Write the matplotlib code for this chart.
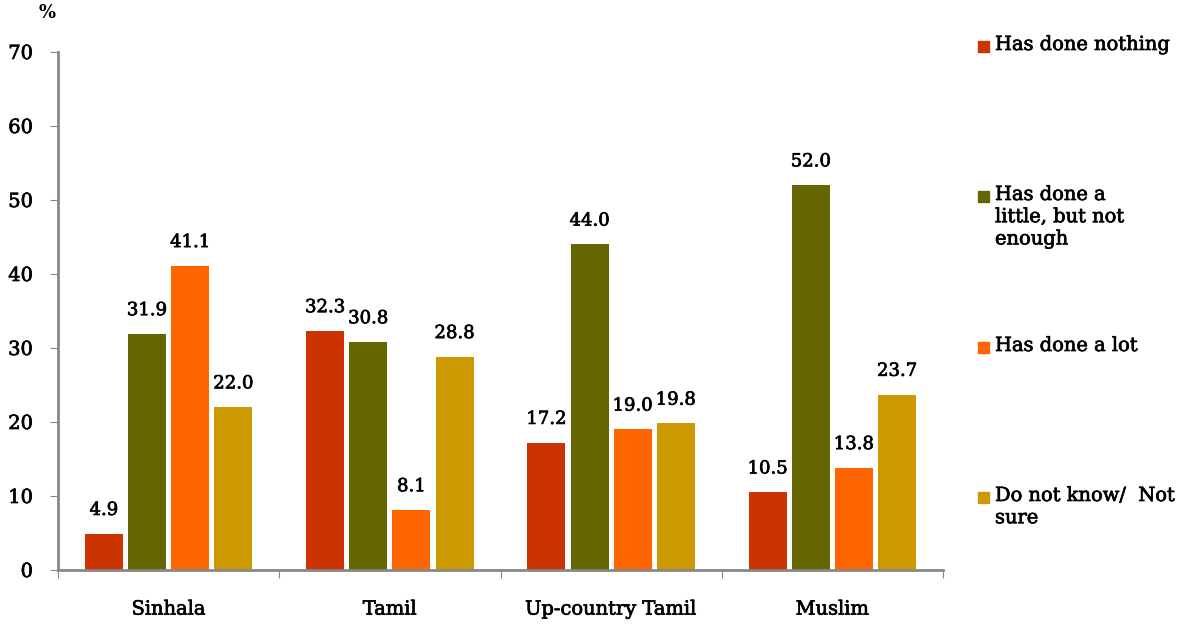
import matplotlib
matplotlib.use("Agg")
import matplotlib.pyplot as plt
import matplotlib.patheffects as pe
import numpy as np
from matplotlib.patches import Rectangle

categories = ["Sinhala", "Tamil", "Up-country Tamil", "Muslim"]
series_names = ["Has done nothing", "Has done a\nlittle, but not\nenough", "Has done a lot", "Do not know/  Not\nsure"]
done_nothing = [4.9, 32.3, 17.2, 10.5]
done_little = [31.9, 30.8, 44.0, 52.0]
done_lot = [41.1, 8.1, 19.0, 13.8]
not_sure = [22.0, 28.8, 19.8, 23.7]
colors = ["#CC3300", "#666600", "#FF6600", "#CC9900"]
yticks = [0, 10, 20, 30, 40, 50, 60, 70]

plt.rcParams['font.family'] = ['DejaVu Serif']
thick = [pe.withStroke(linewidth=0.5, foreground="black")]

fig = plt.figure(figsize=(12.02, 6.24), dpi=100)
ax = fig.add_axes([58/1202, 1-570/624, (943-58)/1202, (570-52)/624])

series = [done_nothing, done_little, done_lot, not_sure]
x = np.arange(len(categories)) + 0.5
step = 0.195
width = 0.172
for i, (vals, c) in enumerate(zip(series, colors)):
    pos = x + (i - 1.5) * step
    ax.bar(pos, vals, width=width, color=c, zorder=2)
    for p, v in zip(pos, vals):
        ax.text(p, v + 2.0, f"{v:.1f}", ha="center", va="bottom", fontsize=13, path_effects=thick)

ax.set_xlim(0, 4)
ax.set_ylim(0, 70)
ax.set_yticks(yticks)
ax.set_yticklabels([str(t) for t in yticks], fontsize=14)
for t in ax.get_yticklabels():
    t.set_path_effects(thick)
ax.set_xticks([0, 1, 2, 3, 4])
ax.set_xticklabels([])
ax.set_xticks(x, minor=True)
ax.set_xticklabels(categories, minor=True, fontsize=14)
for t in ax.get_xticklabels(minor=True):
    t.set_path_effects(thick)
ax.tick_params(axis="x", which="minor", length=0, pad=22)
ax.tick_params(axis="x", which="major", length=6, color="#888888", direction="out")
ax.tick_params(axis="y", length=6, color="#888888", direction="out", pad=12)
for s in ["top", "right"]:
    ax.spines[s].set_visible(False)
for s in ["left", "bottom"]:
    ax.spines[s].set_color("#888888")
    ax.spines[s].set_linewidth(2)

fig.text(47/1202, 1-13/624, "%", ha="center", va="center", fontsize=13, fontweight="bold")

# legend
leg_y = [46, 196, 347, 497]
for name, c, yy in zip(series_names, colors, leg_y):
    fig.patches.append(Rectangle((978/1202, 1-(yy+6)/624), 11/1202, 11/624, color=c, transform=fig.transFigure, figure=fig))
    fig.text(995/1202, 1-(yy-10)/624, name, ha="left", va="top", fontsize=14, linespacing=1.3, path_effects=thick)

fig.savefig("out.png", dpi=100)
